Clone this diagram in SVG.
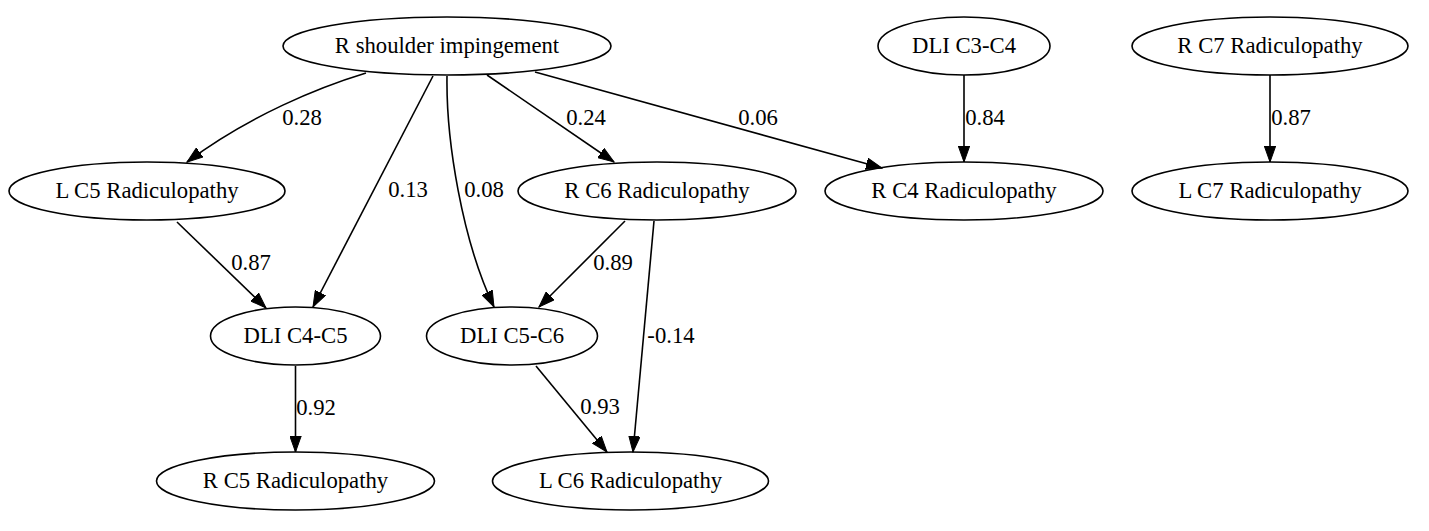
<svg xmlns="http://www.w3.org/2000/svg" width="1429" height="531" viewBox="0 0 1429 531">
<defs>
<style>
.n ellipse{fill:none;stroke:#000;stroke-width:1.6}
.e path{fill:none;stroke:#000;stroke-width:1.6;marker-end:url(#ah)}
text{font-family:'Liberation Serif','Times New Roman',serif;font-size:22.7px;text-anchor:middle;fill:#000}
</style>
<marker id="ah" markerUnits="userSpaceOnUse" markerWidth="17" markerHeight="12" refX="16" refY="6" orient="auto">
<path d="M0,0.3 L16,6 L0,11.7 z" fill="#000" stroke="#000" stroke-width="1"/>
</marker>
</defs>
<rect width="1429" height="531" fill="#fff"/>
<g id="edges" class="e">
<path d="M366,73 C320,87 250,115 187,162"/><text x="302" y="125">0.28</text>
<path d="M433,76 L313,307"/><text x="408" y="197">0.13</text>
<path d="M447,76 C446,140 462,240 494,307"/><text x="484" y="197">0.08</text>
<path d="M487,75 L614,162"/><text x="586" y="125">0.24</text>
<path d="M535,72 L882,168"/><text x="758" y="125">0.06</text>
<path d="M964,75 L964,162"/><text x="985" y="125">0.84</text>
<path d="M1270,75 L1270,162"/><text x="1291" y="125">0.87</text>
<path d="M177,222 L266,308"/><text x="251" y="270">0.87</text>
<path d="M625,221 L539,307"/><text x="613" y="270">0.89</text>
<path d="M654,221 L633,452"/><text x="671" y="343">-0.14</text>
<path d="M536,366 L607,452"/><text x="600" y="414">0.93</text>
<path d="M295.5,366 L295.5,452"/><text x="316" y="415">0.92</text>
</g>
<g id="n_shoulder" class="n"><ellipse cx="447" cy="46" rx="164" ry="29"/><text x="447" y="53">R shoulder impingement</text></g>
<g id="n_dli34" class="n"><ellipse cx="964" cy="46" rx="86" ry="29"/><text x="964" y="53">DLI C3-C4</text></g>
<g id="n_rc7" class="n"><ellipse cx="1270" cy="46" rx="138" ry="29"/><text x="1270" y="53">R C7 Radiculopathy</text></g>
<g id="n_lc5" class="n"><ellipse cx="147" cy="191" rx="138" ry="29"/><text x="147" y="198">L C5 Radiculopathy</text></g>
<g id="n_rc6" class="n"><ellipse cx="657" cy="191" rx="139" ry="29"/><text x="657" y="198">R C6 Radiculopathy</text></g>
<g id="n_rc4" class="n"><ellipse cx="964" cy="191" rx="139" ry="29"/><text x="964" y="198">R C4 Radiculopathy</text></g>
<g id="n_lc7" class="n"><ellipse cx="1270" cy="191" rx="138" ry="29"/><text x="1270" y="198">L C7 Radiculopathy</text></g>
<g id="n_dli45" class="n"><ellipse cx="295.5" cy="336" rx="85" ry="29"/><text x="295.5" y="343">DLI C4-C5</text></g>
<g id="n_dli56" class="n"><ellipse cx="512" cy="336" rx="85.5" ry="29"/><text x="512" y="343">DLI C5-C6</text></g>
<g id="n_rc5" class="n"><ellipse cx="295.5" cy="481" rx="139" ry="29"/><text x="295.5" y="488">R C5 Radiculopathy</text></g>
<g id="n_lc6" class="n"><ellipse cx="630.5" cy="481" rx="138" ry="29"/><text x="630.5" y="488">L C6 Radiculopathy</text></g>
</svg>
